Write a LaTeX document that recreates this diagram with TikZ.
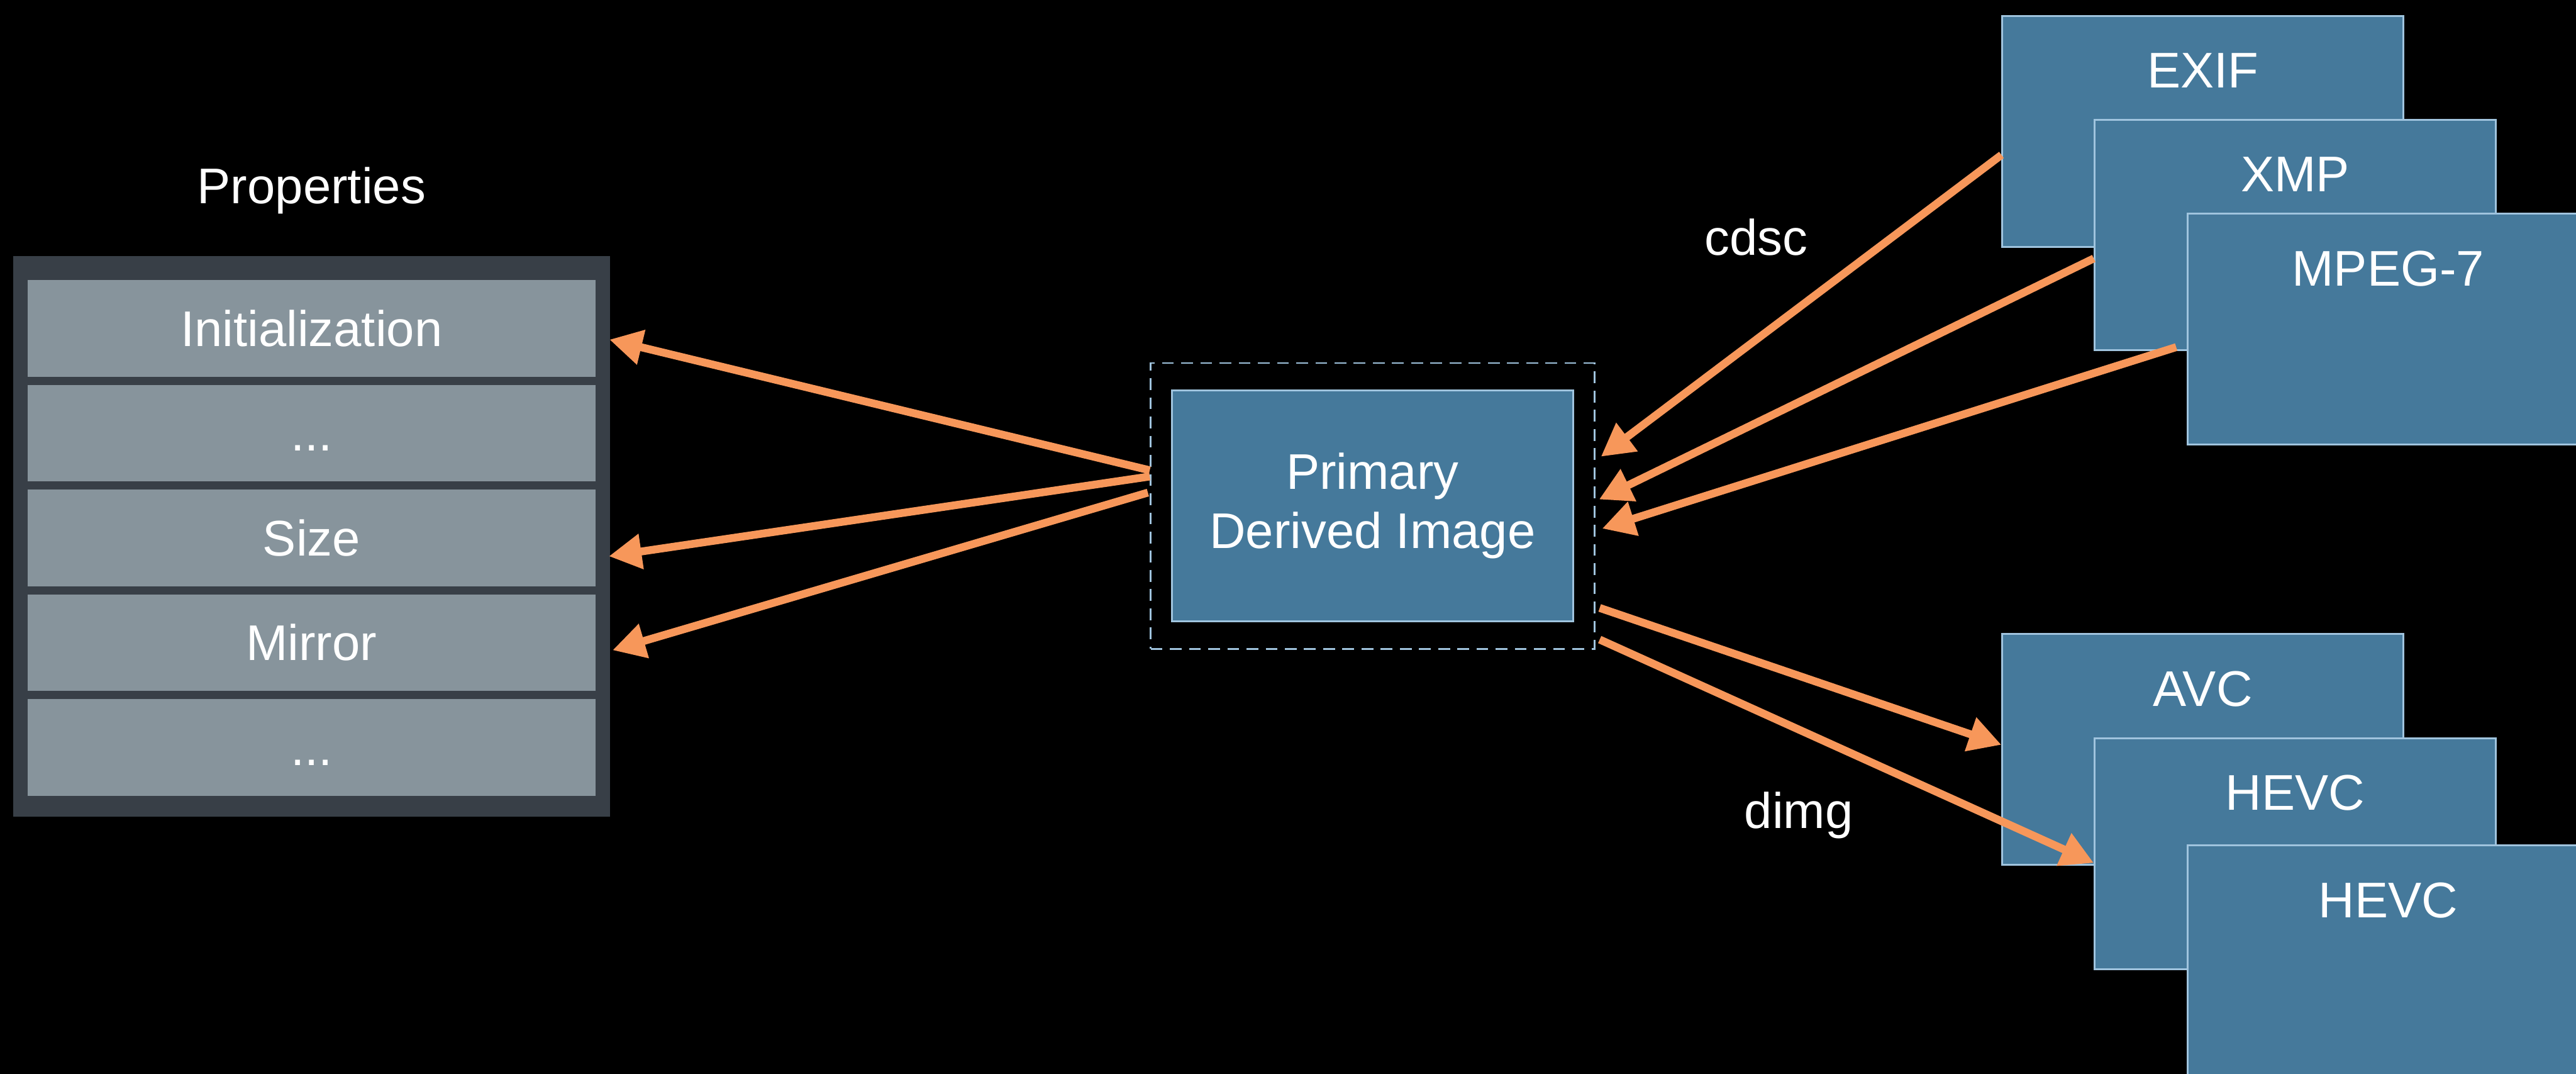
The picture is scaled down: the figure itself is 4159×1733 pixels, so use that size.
\documentclass[tikz,border=0pt]{standalone}
\usepackage{fontspec}
\setmainfont{Liberation Sans}
\usetikzlibrary{positioning, arrows.meta}

\definecolor{panelgrey}{HTML}{383F47}
\definecolor{rowgrey}{HTML}{87949C}
\definecolor{boxblue}{HTML}{45799B}
\definecolor{edgeblue}{HTML}{A0C4DE}
\definecolor{arrowhue}{HTML}{F7975A}

\tikzset{
  row/.style={fill=rowgrey, inner sep=0pt, minimum width=9.16cm, minimum height=1.56cm, text height=0.57cm, text depth=0pt},
  blk/.style={draw=edgeblue, line width=0.85pt, fill=boxblue, inner sep=0pt, minimum width=6.47cm, text height=1.16cm, text depth=2.56cm},
  dashbox/.style={draw=edgeblue, line width=0.85pt, dash pattern=on 5.4pt off 3.4pt, inner sep=0pt, minimum width=7.16cm, minimum height=4.61cm},
  flow/.style={color=arrowhue, line width=3.6pt, -{Triangle[length=15pt,width=15.5pt]}},
}

\begin{document}
\begin{tikzpicture}
	[x=0.01cm, y=-0.01cm, on grid, auto, text=white, font=\fontsize{23}{27}\selectfont]
   \fill[black] (0,0) rectangle (4159,1733);
   \useasboundingbox (0,0) rectangle (4159,1733);
   % property list
   \node[fill=panelgrey, minimum width=9.63cm, minimum height=9.04cm] (panel) at (503.5,866) {};
   \node[row] (init) at (503,530) {Initialization};
   \node[row] (dots_a)[below=1.69cm of init] {...};
   \node[row] (size)[below=1.69cm of dots_a] {Size};
   \node[row] (mirror)[below=1.69cm of size] {Mirror};
   \node[row] (dots_b)[below=1.69cm of mirror] {...};
   \node (props)[above=2.22cm of init] {Properties};
   % derived image
   \node[dashbox] (grp) at (2216,816.5) {};
   \node[draw=edgeblue, line width=0.85pt, fill=boxblue, minimum width=6.48cm, minimum height=3.73cm, align=center] (prim) at (2216,816.5) {Primary\\Derived Image};
   % metadata items
   \node[blk] (exif) at (3556.5,212) {EXIF};
   \node[blk] (xmp)[below right=1.67cm and 1.49cm of exif] {XMP};
   \node[blk] (mpeg)[below right=1.52cm and 1.50cm of xmp] {MPEG-7};
   % coded images
   \node[blk] (avc) at (3556.5,1209.5) {AVC};
   \node[blk] (hevc_a)[below right=1.68cm and 1.49cm of avc] {HEVC};
   \node[blk] (hevc_b)[below right=1.73cm and 1.50cm of hevc_a] {HEVC};
   \node (cdsc) at (2835,383) {cdsc};
   \node (dimg) at (2904,1316) {dimg};
    \path[flow]
    ([yshift=0.575cm]grp.west)
          edge ([xshift=0.22cm,yshift=-0.18cm]init.east)
    ([yshift=0.475cm]grp.west)
          edge ([xshift=0.21cm,yshift=-0.295cm]size.east)
    ([xshift=-0.03cm,yshift=0.215cm]grp.west)
          edge ([xshift=0.27cm,yshift=-0.12cm]mirror.east)
    ([yshift=-0.38cm]exif.west) edge ([xshift=0.09cm,yshift=0.795cm]grp.east)
    ([yshift=-0.38cm]xmp.west) edge ([xshift=0.06cm,yshift=0.105cm]grp.east)
    ([xshift=-0.17cm,yshift=-0.29cm]mpeg.west) edge ([xshift=0.11cm,yshift=-0.365cm]grp.east)
    ([xshift=0.07cm,yshift=-1.645cm]grp.east) edge ([yshift=0.075cm]avc.west)
    ([xshift=0.07cm,yshift=-2.155cm]grp.east) edge ([yshift=-0.15cm]hevc_a.west);
\end{tikzpicture}
\end{document}
